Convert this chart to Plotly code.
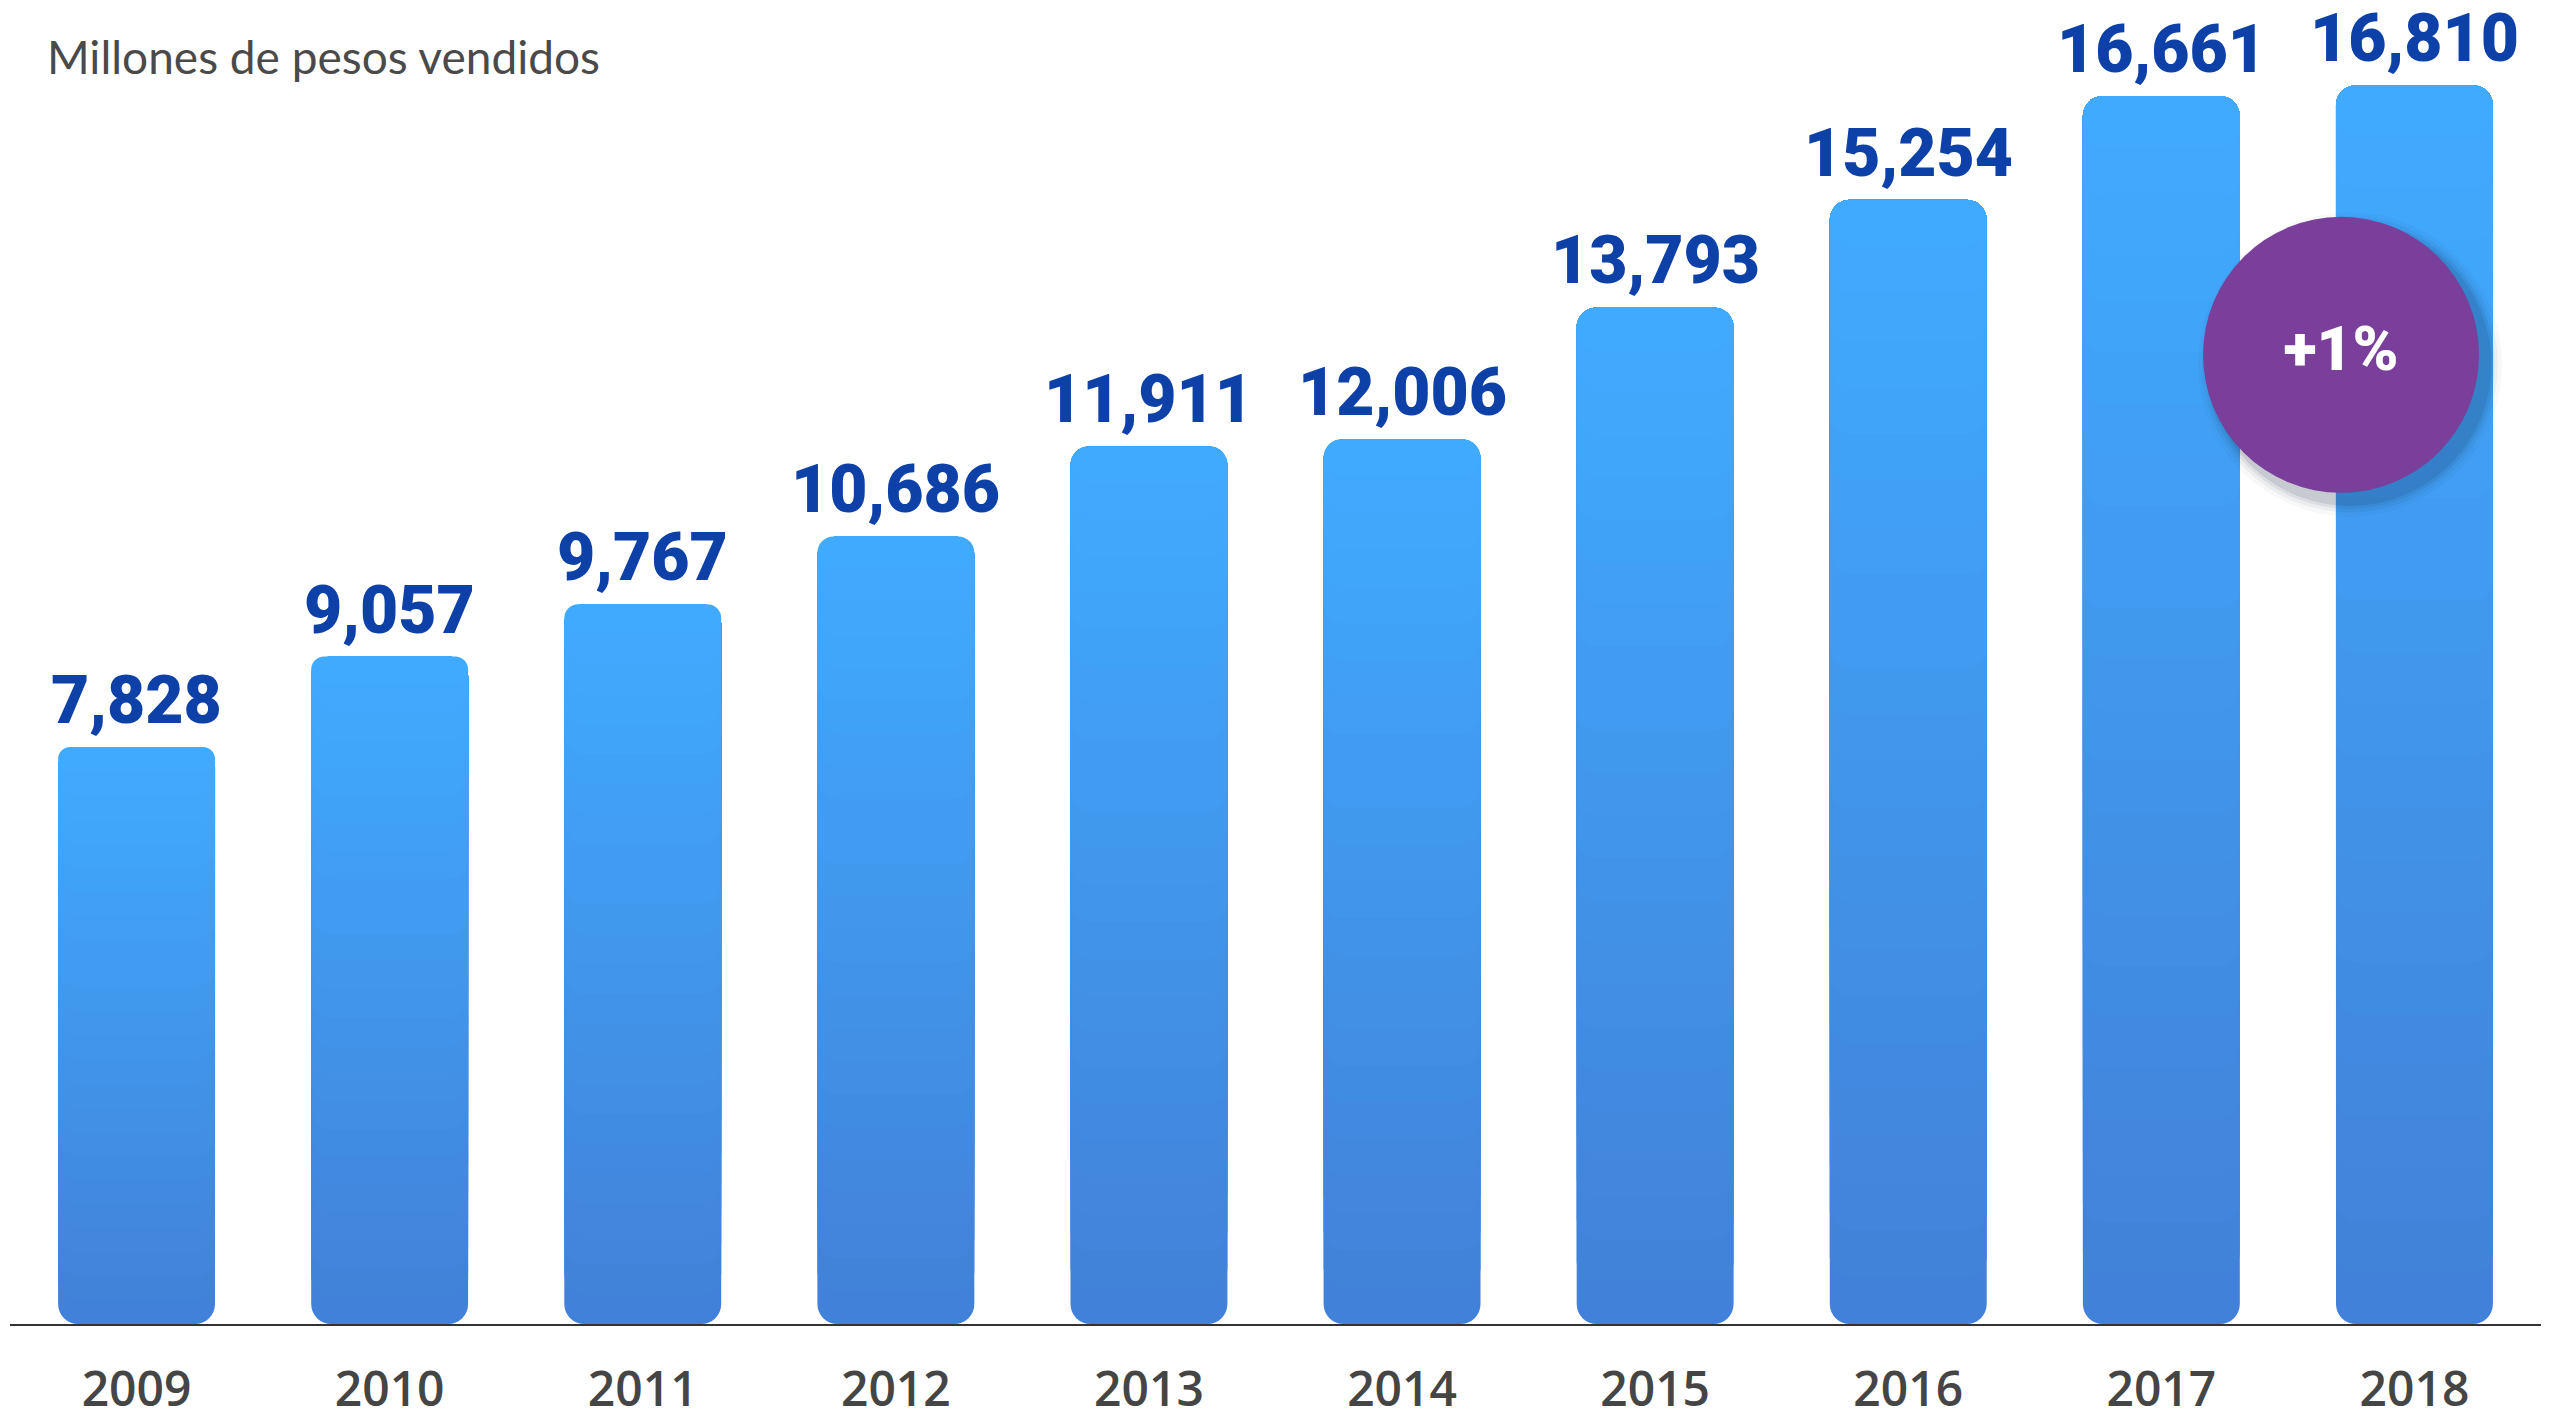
import plotly.graph_objects as go

# ─── datos ───
years = [2009, 2010, 2011, 2012, 2013, 2014, 2015, 2016, 2017, 2018]
sales = [7828, 9057, 9767, 10686, 11911, 12006, 13793, 15254, 16661, 16810]
year_labels = [str(y) for y in years]

badge_x = [2017.71]
badge_y = [13150]
badge_text = ['+1%']

# ─── colores ───
C = {
    'top':    (64, 172, 255),    # azul claro arriba
    'bottom': (66, 128, 216),    # azul oscuro abajo
    'label':  '#0d41a8',
    'tick':   '#454545',
    'title':  '#4a4a4a',
    'axis':   '#333333',
    'badge':  '#793f9a',
}
N_LAYERS = 24
RADIUS = 20


def _mix(a, b, t):
    return 'rgb(%d,%d,%d)' % tuple(round(a[i] + (b[i] - a[i]) * t) for i in range(3))


fig = go.Figure()

# capa base: barra hacia abajo desde la mitad -> esquinas inferiores redondeadas
fig.add_trace(go.Bar(
    x=years, base=[v * 0.5 for v in sales], y=[-v * 0.5 for v in sales],
    marker=dict(color=_mix(C['bottom'], C['top'], 0.5 / N_LAYERS),
                line=dict(width=0), cornerradius=RADIUS),
    hoverinfo='skip', showlegend=False,
))
# capas de degradado hacia arriba -> esquinas superiores redondeadas
for k in range(1, N_LAYERS):
    f = k / N_LAYERS
    fig.add_trace(go.Bar(
        x=years, base=[v * f for v in sales], y=[v * (1 - f) for v in sales],
        marker=dict(color=_mix(C['bottom'], C['top'], (k + 0.5) / N_LAYERS),
                    line=dict(width=0), cornerradius=RADIUS),
        hoverinfo='skip', showlegend=False,
    ))

# sombra del círculo
for sz, op in [(304, 0.03), (296, 0.05), (289, 0.07), (283, 0.10)]:
    fig.add_trace(go.Scatter(
        x=[x + 0.035 for x in badge_x], y=[y - 130 for y in badge_y],
        mode='markers',
        marker=dict(size=sz, color=f'rgba(20,30,60,{op})', line=dict(width=0)),
        hoverinfo='skip', showlegend=False,
    ))
fig.add_trace(go.Scatter(
    x=badge_x, y=badge_y, mode='markers+text', text=badge_text,
    textposition='middle center',
    textfont=dict(family='Roboto', size=62, color='white', weight=900),
    marker=dict(size=276, color=C['badge'], line=dict(width=0)),
    hoverinfo='skip', showlegend=False,
))

for x, v in zip(years, sales):
    fig.add_annotation(
        x=x, y=v, text=f'{v:,}', showarrow=False,
        yanchor='bottom', yshift=6,
        font=dict(family='Roboto', size=66, color=C['label'], weight=900),
    )

fig.update_layout(
    width=2550, height=1418,
    paper_bgcolor='white', plot_bgcolor='white',
    margin=dict(l=2, r=17, t=20, b=102),
    barmode='overlay', bargap=0.38,
    hovermode=False,
    title=dict(
        text='Millones de pesos vendidos',
        xref='container', yref='container',
        x=39 / 2550, xanchor='left', y=1 - 34 / 1418, yanchor='top',
        font=dict(family='Lato, sans-serif', size=46, color=C['title'], weight=400),
    ),
    xaxis=dict(
        range=[2008.5, 2018.5], tickvals=years, ticktext=year_labels,
        showgrid=False, zeroline=False, automargin=False,
        showline=True, linecolor=C['axis'], linewidth=2,
        ticks='outside', ticklen=22, tickcolor='rgba(0,0,0,0)',
        tickfont=dict(family='Open Sans', size=48, color=C['tick'], weight=600),
    ),
    yaxis=dict(
        range=[0, 17585], visible=False, showgrid=False, zeroline=False,
        automargin=False,
    ),
)

fig.write_html('out.html')
